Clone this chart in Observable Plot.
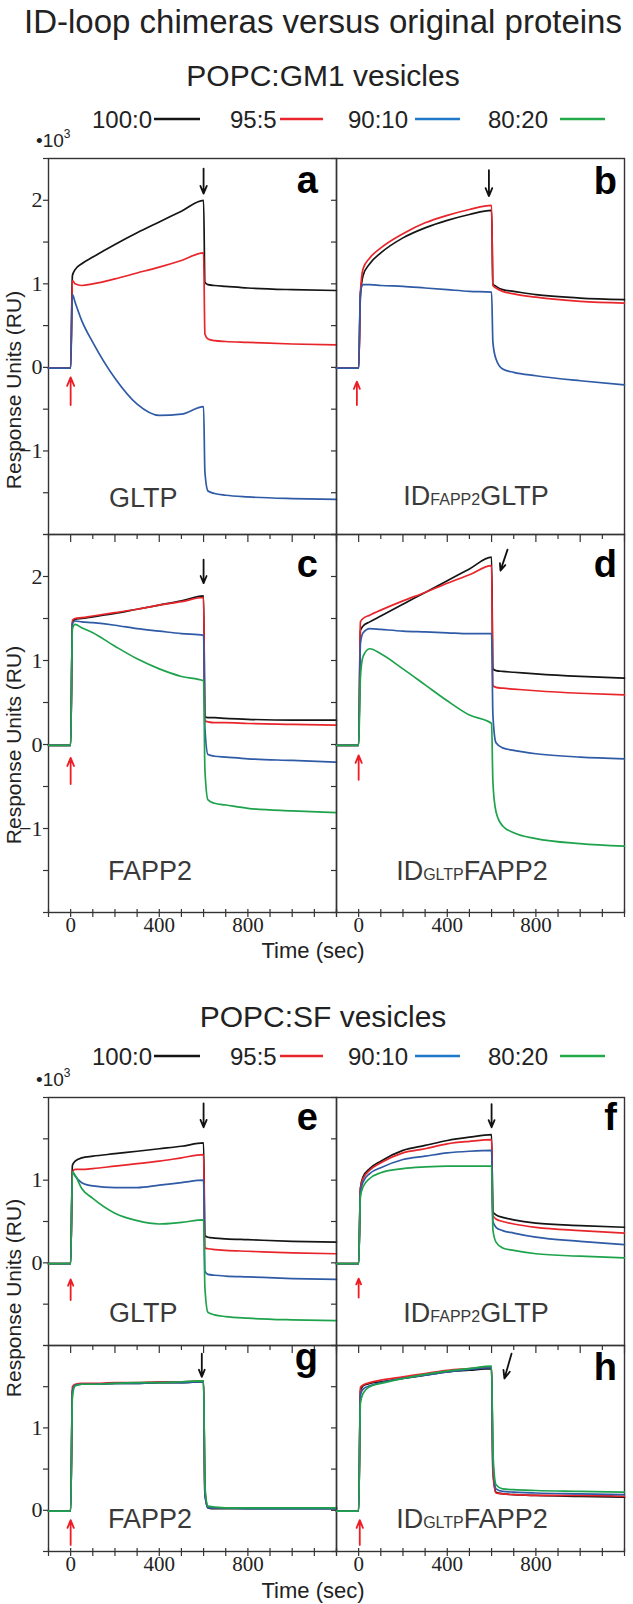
<!DOCTYPE html>
<html><head><meta charset="utf-8">
<script src="https://cdn.jsdelivr.net/npm/d3@7"></script>
<script src="https://cdn.jsdelivr.net/npm/@observablehq/plot@0.6"></script>
<style>
body{margin:0;background:#fff;}
#wrap{position:relative;width:633px;height:1604px;overflow:hidden;background:#fff;}
#wrap > svg{position:absolute;}
</style></head><body><div id="wrap"></div>
<script>
// ---------- data ----------
const ratios = ["100:0", "95:5", "90:10", "80:20"];
const T = [-100, 0, 8, 20, 50, 100, 200, 300, 400, 500, 600, 606, 620, 650, 700, 800, 1000, 1200];
const xTicks = [-100, 0, 100, 200, 300, 400, 500, 600, 700, 800, 900, 1000, 1100, 1200];
const xMajor = [0, 200, 400, 600, 800, 1000, 1200];
const xLabels = [0, 400, 800];
const yTicksAC = [-2, -1.5, -1, -0.5, 0, 0.5, 1, 1.5, 2, 2.5];
const yLabelsAC = [-1, 0, 1, 2];
const yTicksE = [-1, -0.5, 0, 0.5, 1, 1.5, 2];
const yLabelsE = [0, 1];
const yTicksG = [-0.5, 0, 0.5, 1, 1.5, 2];
const yLabelsG = [0, 1];

// panel a (GLTP, GM1)
const aBlack = [-0.01, -0.01, 1.1, 1.17, 1.24, 1.32, 1.47, 1.61, 1.74, 1.87, 2.0, 1.02, 0.99, 0.98, 0.97, 0.95, 0.93, 0.92];
const aRed   = [-0.01, -0.01, 1.04, 1.0, 0.98, 1.0, 1.06, 1.13, 1.2, 1.28, 1.37, 0.4, 0.34, 0.32, 0.31, 0.3, 0.28, 0.27];
const aBlue  = [-0.01, -0.01, 0.87, 0.78, 0.56, 0.3, -0.13, -0.44, -0.575, -0.56, -0.47, -1.25, -1.48, -1.51, -1.53, -1.55, -1.57, -1.58];
// panel b (ID FAPP2 GLTP, GM1)
const bBlack = [-0.01, -0.01, 0.85, 1.1, 1.24, 1.37, 1.55, 1.67, 1.76, 1.83, 1.88, 1.0, 0.97, 0.93, 0.91, 0.87, 0.83, 0.81];
const bRed   = [-0.01, -0.01, 0.9, 1.18, 1.31, 1.43, 1.6, 1.73, 1.82, 1.89, 1.94, 0.98, 0.95, 0.91, 0.88, 0.84, 0.79, 0.77];
const bBlue  = [-0.01, -0.01, 0.9, 0.99, 0.99, 0.98, 0.97, 0.95, 0.93, 0.91, 0.9, 0.3, 0.1, -0.02, -0.06, -0.1, -0.16, -0.21];
// panel c (FAPP2, GM1)
const cBlack = [-0.01, -0.01, 1.45, 1.49, 1.5, 1.52, 1.56, 1.61, 1.66, 1.71, 1.77, 0.33, 0.32, 0.32, 0.31, 0.3, 0.29, 0.29];
const cRed   = [-0.01, -0.01, 1.48, 1.5, 1.51, 1.53, 1.57, 1.61, 1.66, 1.7, 1.75, 0.28, 0.27, 0.26, 0.26, 0.25, 0.24, 0.23];
const cBlue  = [-0.01, -0.01, 1.44, 1.47, 1.46, 1.45, 1.42, 1.38, 1.35, 1.32, 1.3, 0.2, -0.12, -0.14, -0.15, -0.17, -0.19, -0.21];
const cGreen = [-0.01, -0.01, 1.38, 1.43, 1.39, 1.33, 1.17, 1.02, 0.9, 0.81, 0.76, -0.3, -0.66, -0.7, -0.72, -0.76, -0.79, -0.81];
// panel d (ID GLTP FAPP2, GM1)
const dBlack = [-0.01, -0.01, 1.36, 1.41, 1.46, 1.53, 1.67, 1.81, 1.95, 2.09, 2.23, 0.9, 0.88, 0.87, 0.86, 0.84, 0.81, 0.79];
const dRed   = [-0.01, -0.01, 1.46, 1.5, 1.54, 1.6, 1.71, 1.81, 1.92, 2.02, 2.13, 0.7, 0.68, 0.67, 0.66, 0.64, 0.61, 0.59];
const dBlue  = [-0.01, -0.01, 1.2, 1.33, 1.38, 1.37, 1.35, 1.34, 1.33, 1.32, 1.32, 0.35, 0.02, -0.04, -0.07, -0.11, -0.15, -0.17];
const dGreen = [-0.01, -0.01, 0.8, 1.05, 1.14, 1.08, 0.9, 0.71, 0.52, 0.35, 0.25, -0.45, -0.8, -0.97, -1.05, -1.12, -1.18, -1.21];
// panel e (GLTP, SF)
const eBlack = [-0.01, -0.01, 1.18, 1.23, 1.27, 1.29, 1.32, 1.35, 1.38, 1.41, 1.45, 0.33, 0.31, 0.3, 0.29, 0.28, 0.26, 0.25];
const eRed   = [-0.01, -0.01, 1.1, 1.13, 1.13, 1.14, 1.17, 1.2, 1.23, 1.27, 1.31, 0.18, 0.17, 0.16, 0.15, 0.14, 0.12, 0.11];
const eBlue  = [-0.01, -0.01, 1.1, 1.05, 0.97, 0.93, 0.91, 0.91, 0.94, 0.97, 1.0, -0.1, -0.14, -0.15, -0.16, -0.17, -0.19, -0.2];
const eGreen = [-0.01, -0.01, 1.1, 1.06, 0.9, 0.78, 0.6, 0.51, 0.47, 0.49, 0.52, -0.3, -0.6, -0.63, -0.65, -0.67, -0.69, -0.7];
// panel f (ID FAPP2 GLTP, SF)
const fBlack = [-0.01, -0.01, 0.9, 1.04, 1.14, 1.23, 1.36, 1.42, 1.48, 1.52, 1.55, 0.62, 0.58, 0.55, 0.52, 0.48, 0.45, 0.43];
const fRed   = [-0.01, -0.01, 0.9, 1.02, 1.12, 1.21, 1.33, 1.38, 1.44, 1.47, 1.49, 0.57, 0.53, 0.5, 0.47, 0.43, 0.39, 0.36];
const fBlue  = [-0.01, -0.01, 0.85, 0.98, 1.08, 1.15, 1.25, 1.29, 1.33, 1.35, 1.36, 0.5, 0.43, 0.39, 0.36, 0.31, 0.26, 0.22];
const fGreen = [-0.01, -0.01, 0.8, 0.92, 1.02, 1.09, 1.14, 1.16, 1.17, 1.17, 1.17, 0.4, 0.25, 0.18, 0.15, 0.11, 0.08, 0.06];
// panel g (FAPP2, SF)
const gBlack = [-0.01, -0.01, 1.45, 1.52, 1.53, 1.53, 1.54, 1.54, 1.55, 1.55, 1.56, 0.2, 0.03, 0.02, 0.02, 0.02, 0.02, 0.02];
const gRed   = [-0.01, -0.01, 1.5, 1.53, 1.54, 1.54, 1.55, 1.55, 1.56, 1.56, 1.57, 0.25, 0.04, 0.03, 0.03, 0.03, 0.03, 0.03];
const gBlue  = [-0.01, -0.01, 1.44, 1.52, 1.53, 1.53, 1.54, 1.54, 1.55, 1.55, 1.56, 0.2, 0.03, 0.03, 0.03, 0.02, 0.02, 0.02];
const gGreen = [-0.01, -0.01, 1.38, 1.51, 1.53, 1.53, 1.54, 1.55, 1.55, 1.56, 1.57, 0.3, 0.05, 0.04, 0.03, 0.03, 0.03, 0.03];
// panel h (ID GLTP FAPP2, SF)
const hBlack = [-0.01, -0.01, 1.45, 1.51, 1.54, 1.56, 1.6, 1.64, 1.68, 1.7, 1.72, 0.5, 0.22, 0.2, 0.19, 0.18, 0.17, 0.16];
const hRed   = [-0.01, -0.01, 1.49, 1.52, 1.55, 1.58, 1.62, 1.66, 1.7, 1.72, 1.74, 0.45, 0.21, 0.2, 0.19, 0.18, 0.18, 0.17];
const hBlue  = [-0.01, -0.01, 1.4, 1.47, 1.51, 1.55, 1.6, 1.64, 1.68, 1.71, 1.73, 0.6, 0.26, 0.23, 0.22, 0.21, 0.2, 0.19];
const hGreen = [-0.01, -0.01, 1.3, 1.42, 1.5, 1.54, 1.6, 1.65, 1.69, 1.72, 1.75, 0.7, 0.31, 0.26, 0.25, 0.24, 0.23, 0.22];

// arrows [t1, y1, t2, y2]
const blackArrowA = [600, 2.38, 600, 2.08], redArrowA = [0, -0.45, 0, -0.12];
const blackArrowB = [588, 2.36, 588, 2.05], redArrowB = [-8, -0.45, -8, -0.17];
const blackArrowC = [600, 2.2, 600, 1.92],  redArrowC = [0, -0.47, 0, -0.16];
const blackArrowD = [672, 2.32, 640, 2.07], redArrowD = [0, -0.42, 0, -0.13];
const blackArrowE = [600, 1.93, 600, 1.64], redArrowE = [0, -0.45, 0, -0.2];
const blackArrowF = [600, 1.92, 600, 1.64], redArrowF = [0, -0.42, 0, -0.19];
const blackArrowG = [592, 1.9, 592, 1.62],  redArrowG = [0, -0.42, 0, -0.12];
const blackArrowH = [690, 1.9, 658, 1.6],   redArrowH = [5, -0.42, 5, -0.12];

// ---------- styles / layout ----------
const lineColors = ["#151515", "#e8252b", "#2e5aa6", "#1ea34c"];
const legendColors = ["#151515", "#e8252b", "#1f78c8", "#22aa4a"];
const SANS = "'Liberation Sans', Arial, sans-serif";
const SERIF = "'Liberation Serif', 'Times New Roman', serif";
const colX = [48, 336];
const PW = 288;
const M = {l: 48, r: 10, t: 10, b: 44};

const wrap = document.getElementById("wrap");
const fmt = d => d < 0 ? "\u2212" + Math.abs(d) : String(d);

function panel(series, L, blackArrow, redArrow) {
  const rows = [];
  series.forEach((vals, i) => vals.forEach((v, j) => rows.push({t: T[j], v, s: ratios[i]})));
  const h = L.h;
  const marks = [
    Plot.frame({stroke: "#333", strokeWidth: 1.4}),
    Plot.tickY(L.yt, {y: d => d, insetLeft: -5, insetRight: PW, stroke: "#333", strokeWidth: 1.2}),
  ];
  if (L.col === 0) {
    marks.push(Plot.text(L.yl, {y: d => d, text: d => fmt(d), frameAnchor: "left", textAnchor: "end", dx: -6,
      fontFamily: SERIF, fontSize: 22, fill: "#222"}));
  }
  if (L.lower) {
    marks.push(Plot.tickX(xTicks.filter(d => !xMajor.includes(d)), {x: d => d, insetBottom: h - 5, stroke: "#333", strokeWidth: 1.2}));
    marks.push(Plot.tickX(xMajor, {x: d => d, insetBottom: h - 8, stroke: "#333", strokeWidth: 1.2}));
    marks.push(Plot.tickX(xTicks, {x: d => d, insetTop: h - 3, insetBottom: -5, stroke: "#333", strokeWidth: 1.2}));
    marks.push(Plot.text(xLabels, {x: d => d, text: d => String(d), frameAnchor: "bottom", dy: 19,
      fontFamily: SERIF, fontSize: 21, fill: "#222"}));
  }
  marks.push(Plot.line(rows, {x: "t", y: "v", z: "s", stroke: "s", strokeWidth: 1.7, curve: "monotone-x"}));
  marks.push(Plot.arrow([blackArrow], {x1: d => d[0], y1: d => d[1], x2: d => d[2], y2: d => d[3],
    stroke: "#111", strokeWidth: 1.8, headLength: 8, headAngle: 45}));
  marks.push(Plot.arrow([redArrow], {x1: d => d[0], y1: d => d[1], x2: d => d[2], y2: d => d[3],
    stroke: "#ee1c24", strokeWidth: 1.8, headLength: 8, headAngle: 45}));
  const svg = Plot.plot({
    width: M.l + PW + M.r, height: M.t + h + M.b,
    marginLeft: M.l, marginRight: M.r, marginTop: M.t, marginBottom: M.b,
    x: {domain: [-100, 1200], axis: null, label: null},
    y: {domain: L.yd, axis: null, label: null},
    color: {domain: ratios, range: lineColors},
    style: {background: "transparent", overflow: "visible", fontFamily: SERIF, maxWidth: "none"},
    marks
  });
  svg.style.left = (colX[L.col] - M.l) + "px";
  svg.style.top = (L.top - M.t) + "px";
  wrap.appendChild(svg);
}

panel([aBlack, aRed, aBlue], {col: 0, top: 158, h: 376, yd: [-2, 2.5], yt: yTicksAC, yl: yLabelsAC, lower: false}, blackArrowA, redArrowA);
panel([bBlack, bRed, bBlue], {col: 1, top: 158, h: 376, yd: [-2, 2.5], yt: yTicksAC, yl: yLabelsAC, lower: false}, blackArrowB, redArrowB);
panel([cBlack, cRed, cBlue, cGreen], {col: 0, top: 534, h: 378, yd: [-2, 2.5], yt: yTicksAC, yl: yLabelsAC, lower: true}, blackArrowC, redArrowC);
panel([dBlack, dRed, dBlue, dGreen], {col: 1, top: 534, h: 378, yd: [-2, 2.5], yt: yTicksAC, yl: yLabelsAC, lower: true}, blackArrowD, redArrowD);
panel([eBlack, eRed, eBlue, eGreen], {col: 0, top: 1097, h: 248, yd: [-1, 2], yt: yTicksE, yl: yLabelsE, lower: false}, blackArrowE, redArrowE);
panel([fBlack, fRed, fBlue, fGreen], {col: 1, top: 1097, h: 248, yd: [-1, 2], yt: yTicksE, yl: yLabelsE, lower: false}, blackArrowF, redArrowF);
panel([gBlack, gRed, gBlue, gGreen], {col: 0, top: 1345, h: 206, yd: [-0.5, 2], yt: yTicksG, yl: yLabelsG, lower: true}, blackArrowG, redArrowG);
panel([hBlack, hRed, hBlue, hGreen], {col: 1, top: 1345, h: 206, yd: [-0.5, 2], yt: yTicksG, yl: yLabelsG, lower: true}, blackArrowH, redArrowH);

// ---------- overlay text ----------
const legendX = [[92, 154, 200], [230, 280, 323], [348, 415, 460], [488, 560, 605]];
function legend(base) {
  return ratios.map((r, i) => `<text x="${legendX[i][0]}" y="${base}" font-size="24">${r}</text>
    <line x1="${legendX[i][1]}" x2="${legendX[i][2]}" y1="${base - 9}" y2="${base - 9}" stroke="${legendColors[i]}" stroke-width="2.6"/>`).join("");
}
function tenCubed(base) {
  return `<text x="36" y="${base}" font-size="19">\u202210<tspan dy="-9" font-size="12">3</tspan></text>`;
}
function ylab(cy) {
  return `<text transform="translate(21,${cy}) rotate(-90)" text-anchor="middle" font-size="21">Response Units (RU)</text>`;
}
function idLabel(cx, base, small, big) {
  return `<text x="${cx}" y="${base}" text-anchor="middle" font-size="27" fill="#3a3a3a"><tspan>ID</tspan><tspan font-size="16">${small}</tspan><tspan>${big}</tspan></text>`;
}
const letters = [["a", 318, 193], ["b", 617, 194], ["c", 318, 577], ["d", 617, 577],
                 ["e", 318, 1130], ["f", 617, 1130], ["g", 318, 1370], ["h", 617, 1380]];
const ov = `<svg id="ov" width="633" height="1604" style="left:0;top:0;pointer-events:none" font-family="${SANS.replace(/'/g, "&quot;")}" fill="#222">
  <text x="323" y="33" text-anchor="middle" font-size="33">ID-loop chimeras versus original proteins</text>
  <text x="323" y="86" text-anchor="middle" font-size="30">POPC:GM1 vesicles</text>
  ${legend(128)}
  ${tenCubed(147)}
  <text x="323" y="1027" text-anchor="middle" font-size="30">POPC:SF vesicles</text>
  ${legend(1065)}
  ${tenCubed(1086)}
  ${ylab(390)}${ylab(745)}${ylab(1298)}
  <text x="313" y="958" text-anchor="middle" font-size="22">Time (sec)</text>
  <text x="313" y="1598" text-anchor="middle" font-size="22">Time (sec)</text>
  ${letters.map(([l, x, y]) => `<text x="${x}" y="${y}" text-anchor="end" font-size="38" font-weight="bold" fill="#000">${l}</text>`).join("")}
  <text x="109" y="507" font-size="27" fill="#3a3a3a">GLTP</text>
  <text x="108" y="880" font-size="27" fill="#3a3a3a">FAPP2</text>
  <text x="109" y="1322" font-size="27" fill="#3a3a3a">GLTP</text>
  <text x="108" y="1528" font-size="27" fill="#3a3a3a">FAPP2</text>
  ${idLabel(476, 505, "FAPP2", "GLTP")}
  ${idLabel(472, 880, "GLTP", "FAPP2")}
  ${idLabel(476, 1322, "FAPP2", "GLTP")}
  ${idLabel(472, 1528, "GLTP", "FAPP2")}
</svg>`;
wrap.insertAdjacentHTML("beforeend", ov);
</script></body></html>
